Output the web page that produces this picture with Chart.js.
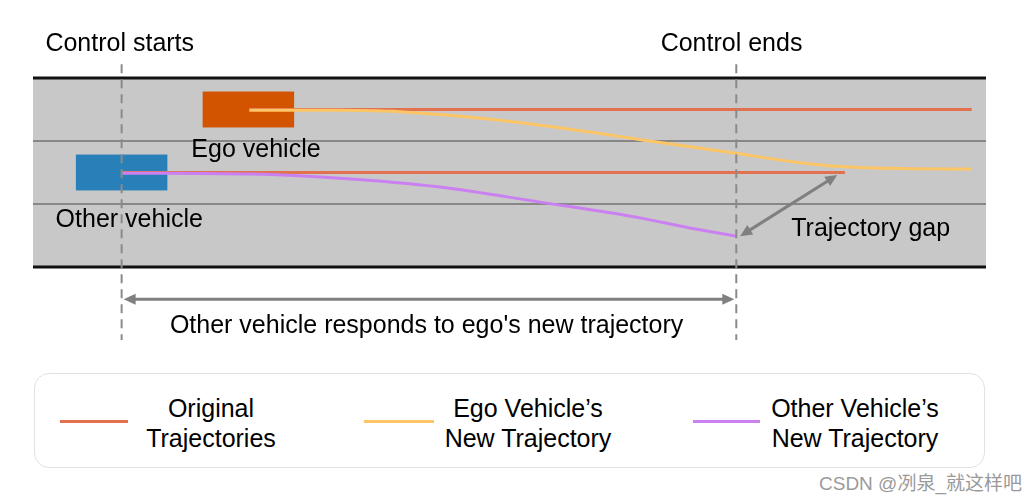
<!DOCTYPE html>
<html>
<head>
<meta charset="utf-8">
<title>Trajectory gap</title>
<script src="https://cdn.jsdelivr.net/npm/chart.js@4.4.1/dist/chart.umd.min.js"></script>
<style>
  html, body { margin: 0; padding: 0; background: #fff; }
  #page { position: relative; width: 1036px; height: 499px; font-family: "Liberation Sans", Arial, sans-serif; }
  #plot { position: absolute; left: 0; top: 0; width: 1036px; height: 360px; }
  #legend { position: absolute; left: 34px; top: 373px; width: 951px; height: 95px; box-sizing: border-box;
            border: 1.5px solid #e2e2e2; border-radius: 15px; }
  .swatch { position: absolute; top: 46px; height: 3px; }
  .item { position: absolute; top: 20px; width: 220px; margin-left: -110px; text-align: center;
          font-size: 25px; line-height: 29.5px; color: #000; }
  #mark { position: absolute; left: 819px; top: 468px; font-size: 19px; color: #9a9a9a;
          font-family: "Liberation Sans", "Noto Sans CJK SC", sans-serif; }
</style>
</head>
<body>
<div id="page">
  <div id="plot"><canvas id="diagram"></canvas></div>
  <div id="legend"></div>
  <div id="mark">CSDN @冽泉_就这样吧</div>
</div>
<script>
// road geometry (x in metres along the road, y in lane units from the bottom edge)
const roadLength = 100;
const laneLines = [1, 2];
const roadEdges = [0, 3];
const controlStart = 9.3;
const controlEnd = 73.8;

// vehicles
const vehicleNames = ['Ego vehicle', 'Other vehicle'];
const vehicleRear = [17.8, 4.5];
const vehicleFront = [27.4, 14.1];
const vehicleLane = [2.5, 1.5];
const vehicleLength = 0.57;

// original trajectories (straight, lane keeping)
const egoOriginalX = [22.7, 98.5];
const egoOriginalY = [2.5, 2.5];
const otherOriginalX = [9.3, 85.2];
const otherOriginalY = [1.5, 1.5];

// ego vehicle's new trajectory (lane change)
const egoNewX = [22.7, 32.2, 38.5, 49.0, 59.5, 64.7, 73.7, 80.5, 84.7, 91.0, 98.5];
const egoNewY = [2.49, 2.487, 2.465, 2.33, 2.12, 2.0, 1.805, 1.656, 1.595, 1.563, 1.556];

// other vehicle's new trajectory (reaction)
const otherNewX = [9.3, 22.8, 32.2, 42.7, 53.2, 63.7, 68.9, 73.8];
const otherNewY = [1.49, 1.475, 1.41, 1.27, 1.03, 0.78, 0.62, 0.49];

// trajectory gap: end of other's new path -> point on its original path
const gapFrom = [74.2, 0.49];
const gapTo = [84.4, 1.46];

const legendLabels = [['Original', 'Trajectories'], ['Ego Vehicle\u2019s', 'New Trajectory'], ['Other Vehicle\u2019s', 'New Trajectory']];
const colors = { original: '#e2714f', ego: '#fcc566', other: '#cb80f1', egoCar: '#d35400', otherCar: '#2980b9' };

function toPoints(xs, ys) {
  return xs.map((x, i) => ({ x: x, y: ys[i] }));
}

function drawArrowHead(ctx, x, y, angle) {
  const len = 12, half = 5.5;
  ctx.save();
  ctx.translate(x, y);
  ctx.rotate(angle);
  ctx.beginPath();
  ctx.moveTo(0, 0);
  ctx.lineTo(-len, -half);
  ctx.lineTo(-len, half);
  ctx.closePath();
  ctx.fill();
  ctx.restore();
}

function drawDoubleArrow(ctx, x1, y1, x2, y2) {
  const angle = Math.atan2(y2 - y1, x2 - x1);
  ctx.save();
  ctx.strokeStyle = '#808080';
  ctx.fillStyle = '#808080';
  ctx.lineWidth = 3;
  ctx.beginPath();
  ctx.moveTo(x1 + Math.cos(angle) * 8, y1 + Math.sin(angle) * 8);
  ctx.lineTo(x2 - Math.cos(angle) * 8, y2 - Math.sin(angle) * 8);
  ctx.stroke();
  drawArrowHead(ctx, x2, y2, angle);
  drawArrowHead(ctx, x1, y1, angle + Math.PI);
  ctx.restore();
}

const roadPlugin = {
  id: 'roadPlugin',
  beforeDatasetsDraw(chart) {
    const ctx = chart.ctx;
    const xs = chart.scales.x, ys = chart.scales.y;
    const left = xs.getPixelForValue(0), right = xs.getPixelForValue(roadLength);
    const top = ys.getPixelForValue(roadEdges[1]), bottom = ys.getPixelForValue(roadEdges[0]);
    ctx.save();
    ctx.fillStyle = '#c8c8c8';
    ctx.fillRect(left, top, right - left, bottom - top);
    ctx.strokeStyle = '#878787';
    ctx.lineWidth = 2;
    laneLines.forEach(v => {
      const py = ys.getPixelForValue(v);
      ctx.beginPath(); ctx.moveTo(left, py); ctx.lineTo(right, py); ctx.stroke();
    });
    ctx.strokeStyle = '#111';
    ctx.lineWidth = 3;
    roadEdges.forEach(v => {
      const py = ys.getPixelForValue(v);
      ctx.beginPath(); ctx.moveTo(left, py); ctx.lineTo(right, py); ctx.stroke();
    });
    // vehicles
    const carColors = [colors.egoCar, colors.otherCar];
    vehicleNames.forEach((name, i) => {
      const x0 = xs.getPixelForValue(vehicleRear[i]);
      const x1 = xs.getPixelForValue(vehicleFront[i]);
      const y0 = ys.getPixelForValue(vehicleLane[i] + vehicleLength / 2);
      const y1 = ys.getPixelForValue(vehicleLane[i] - vehicleLength / 2);
      ctx.fillStyle = carColors[i];
      ctx.fillRect(x0, y0, x1 - x0, y1 - y0);
    });
    ctx.restore();
  },
  afterDatasetsDraw(chart) {
    const ctx = chart.ctx;
    const xs = chart.scales.x, ys = chart.scales.y;
    ctx.save();
    // control start / end markers
    ctx.strokeStyle = '#8a8a8a';
    ctx.lineWidth = 2;
    ctx.setLineDash([9, 6]);
    [controlStart, controlEnd].forEach(v => {
      const px = xs.getPixelForValue(v);
      ctx.beginPath();
      ctx.moveTo(px, ys.getPixelForValue(3.22));
      ctx.lineTo(px, ys.getPixelForValue(-1.16));
      ctx.stroke();
    });
    ctx.setLineDash([]);
    // arrows
    drawDoubleArrow(ctx, xs.getPixelForValue(gapFrom[0]), ys.getPixelForValue(gapFrom[1]),
                    xs.getPixelForValue(gapTo[0]), ys.getPixelForValue(gapTo[1]));
    const spanY = ys.getPixelForValue(-0.51);
    drawDoubleArrow(ctx, xs.getPixelForValue(controlStart) + 2, spanY, xs.getPixelForValue(controlEnd) - 2, spanY);
    // text
    ctx.fillStyle = '#000';
    ctx.font = '25px "Liberation Sans", Arial, sans-serif';
    ctx.textAlign = 'center';
    ctx.textBaseline = 'middle';
    const labels = [
      ['Control starts', 9.1, 3.54],
      ['Control ends', 73.3, 3.54],
      [vehicleNames[0], 23.4, 1.86],
      [vehicleNames[1], 10.1, 0.75],
      ['Trajectory gap', 87.9, 0.605],
      ['Other vehicle responds to ego\'s new trajectory', 41.3, -0.935]
    ];
    labels.forEach(l => ctx.fillText(l[0], xs.getPixelForValue(l[1]), ys.getPixelForValue(l[2])));
    ctx.restore();
  }
};

function lineSet(label, points, color, order) {
  return {
    label: label,
    data: points,
    borderColor: color,
    borderWidth: 3,
    pointRadius: 0,
    fill: false,
    cubicInterpolationMode: 'monotone',
    order: order
  };
}

new Chart(document.getElementById('diagram'), {
  type: 'line',
  data: {
    datasets: [
      lineSet('Other Vehicle\u2019s New Trajectory', toPoints(otherNewX, otherNewY), colors.other, 1),
      lineSet('Ego Vehicle\u2019s New Trajectory', toPoints(egoNewX, egoNewY), colors.ego, 2),
      lineSet('Original (ego)', toPoints(egoOriginalX, egoOriginalY), colors.original, 3),
      lineSet('Original (other)', toPoints(otherOriginalX, otherOriginalY), colors.original, 3)
    ]
  },
  options: {
    responsive: true,
    maintainAspectRatio: false,
    animation: false,
    layout: { padding: 0 },
    plugins: { legend: { display: false }, tooltip: { enabled: false } },
    scales: {
      x: { type: 'linear', display: false, min: -3.463, max: 105.25 },
      y: { type: 'linear', display: false, min: -1.476, max: 4.238 }
    }
  },
  plugins: [roadPlugin]
});

// legend box below the diagram
const legend = document.getElementById('legend');
const swatchColors = [colors.original, colors.ego, colors.other];
const swatchLeft = [25, 329, 658];
const swatchWidth = [68, 70, 67];
const textCentre = [176, 493, 820];
legendLabels.forEach((lines, i) => {
  const sw = document.createElement('div');
  sw.className = 'swatch';
  sw.style.left = swatchLeft[i] + 'px';
  sw.style.width = swatchWidth[i] + 'px';
  sw.style.background = swatchColors[i];
  legend.appendChild(sw);
  const txt = document.createElement('div');
  txt.className = 'item';
  txt.style.left = textCentre[i] + 'px';
  txt.innerHTML = lines.join('<br>');
  legend.appendChild(txt);
});
</script>
</body>
</html>
